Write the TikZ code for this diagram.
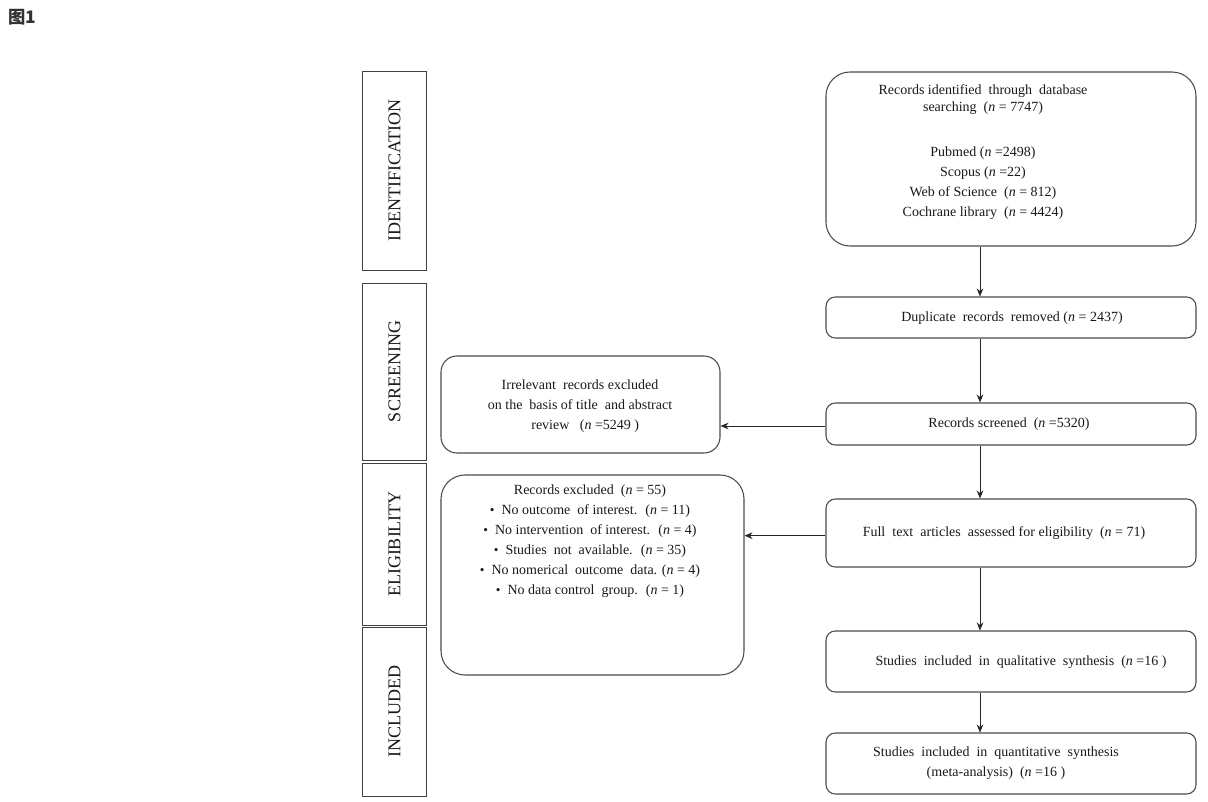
\documentclass[tikz,border=0pt]{standalone}
\usepackage{fontspec}
\setmainfont{Liberation Serif}
\newfontfamily\cjk{Noto Sans CJK SC}
\usetikzlibrary{arrows.meta}
\newcommand{\nn}{\textit{n}}
\newcommand{\bul}{{\fontsize{10}{10}\selectfont\textbullet}}
\begin{document}
\begin{tikzpicture}[x=0.75pt,y=-0.75pt,
  box/.style={draw=black!70, line width=0.8pt, rounded corners=7pt, inner sep=0},
  phase/.style={draw=black!75, line width=0.6pt, inner sep=0, minimum width=48.5pt},
  txt/.style={font=\fontsize{10.5}{15}\selectfont, align=center, text=black!90, inner sep=0},
  ptxt/.style={font=\fontsize{13.5}{14}\selectfont, rotate=90, text=black!90, inner sep=0},
  arr/.style={-{Stealth[length=6pt,width=5pt]}, line width=0.7pt, draw=black!85}
]
\useasboundingbox (0,0) rectangle (1208,802);
\fill[white] (0,0) rectangle (1208,802);

\node[anchor=west, font=\cjk\bfseries\fontsize{13}{14}\selectfont, text=black!80, inner sep=0] (fig) at (8,17) {图1};

% phase boxes
\node[phase, minimum height=149.25pt] (p1) at (394.5,170.5) {};
\node[phase, minimum height=132.75pt] (p2) at (394.5,371.5) {};
\node[phase, minimum height=121.5pt] (p3) at (394.5,544) {};
\node[phase, minimum height=126.75pt] (p4) at (394.5,711.5) {};
\node[ptxt] (t1) at (p1) {IDENTIFICATION};
\node[ptxt] (t2) at (p2) {SCREENING};
\node[ptxt] (t3) at (p3) {ELIGIBILITY};
\node[ptxt] (t4) at (p4) {INCLUDED};

% main boxes
\node[box, rounded corners=18pt, minimum width=277.5pt, minimum height=130.5pt] (b1) at (1011,159) {};
\node[box, minimum width=277.5pt, minimum height=30.75pt] (b2) at (1011,317.5) {};
\node[box, minimum width=277.5pt, minimum height=31.5pt] (b3) at (1011,424) {};
\node[box, minimum width=277.5pt, minimum height=51pt] (b4) at (1011,533) {};
\node[box, minimum width=277.5pt, minimum height=45.75pt] (b5) at (1011,661.5) {};
\node[box, minimum width=277.5pt, minimum height=45.75pt] (b6) at (1011,763.5) {};
\node[box, rounded corners=12pt, minimum width=209.25pt, minimum height=72.75pt] (l1) at (580.5,404.5) {};
\node[box, rounded corners=18pt, minimum width=227.25pt, minimum height=150pt] (l2) at (592.5,575) {};

% texts
\node[txt, anchor=north] (x1) at (983,84) {Records identified \ through \ database\\[-2.2pt]searching \ (\nn{} = 7747)\\[19pt]Pubmed (\nn{} =2498)\\Scopus (\nn{} =22)\\Web of Science \ (\nn{} = 812)\\Cochrane library \ (\nn{} = 4424)};
\node[txt] (x2) at (1012,318) {Duplicate \ records \ removed (\nn{} = 2437)};
\node[txt] (x3) at (1009,424) {Records screened \ (\nn{} =5320)};
\node[txt] (x4) at (1004,533) {Full \ text \ articles \ assessed for eligibility \ (\nn{} = 71)};
\node[txt] (x5) at (1021,662) {Studies \ included \ in \ qualitative \ synthesis \ (\nn{} =16 )};
\node[txt] (x6) at (996,763) {Studies \ included \ in \ quantitative \ synthesis\\(meta-analysis) \ (\nn{} =16 )};
\node[txt] (y1) at (580,406) {Irrelevant \ records excluded\\ on the \ basis of title \ and abstract\\ \ \ \ review \ \ (\nn{} =5249 )};
\node[txt, anchor=north] (y2) at (590,485) {Records excluded \ (\nn{} = 55)\\
\bul{} \ No outcome \ of interest. \ (\nn{} = 11)\\
\bul{} \ No intervention \ of interest. \ (\nn{} = 4)\\
\bul{} \ Studies \ not \ available. \ (\nn{} = 35)\\
\bul{} \ No nomerical \ outcome \ data. (\nn{} = 4)\\
\bul{} \ No data control \ group. \ (\nn{} = 1)};

% connectors
\coordinate (ax) at (980,0);
\draw[arr] (b1.south -| ax) -- (b2.north -| ax);
\draw[arr] (b2.south -| ax) -- (b3.north -| ax);
\draw[arr] (b3.south -| ax) -- (b4.north -| ax);
\draw[arr] (b4.south -| ax) -- (b5.north -| ax);
\draw[arr] (b5.south -| ax) -- (b6.north -| ax);
\draw[arr] ([yshift=-1.5pt]b3.west) -- ([yshift=-1.5pt]b3.west -| l1.east);
\draw[arr] ([yshift=-2pt]b4.west) -- ([yshift=-2pt]b4.west -| l2.east);
\end{tikzpicture}
\end{document}
